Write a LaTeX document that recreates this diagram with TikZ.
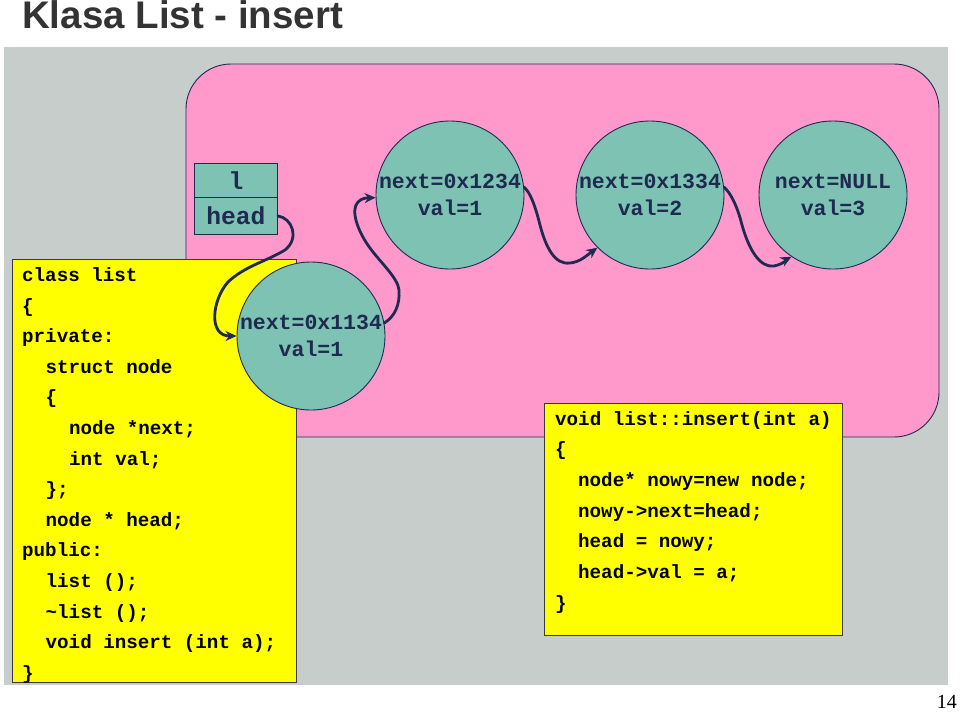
\documentclass[tikz,border=0pt]{standalone}
\usepackage{fontspec}
\setmonofont{Liberation Mono}
\newfontfamily\titlefont{Liberation Sans}
\newfontfamily\numfont{Liberation Serif}
\usetikzlibrary{arrows.meta}
\definecolor{bggray}{HTML}{C6CDCA}
\definecolor{pinkbg}{HTML}{FF99CC}
\definecolor{tealc}{HTML}{7DC2B3}
\definecolor{navy}{HTML}{1F2A50}
\definecolor{titlec}{HTML}{333333}
\definecolor{codeborder}{HTML}{3A3A3A}
\definecolor{codeyellow}{HTML}{FFFF00}
\tikzset{
  circ/.style={circle, draw=navy, line width=0.9pt, fill=tealc, minimum size=148pt, inner sep=0pt,
    align=center, text=navy, font=\ttfamily\bfseries\fontsize{21.5}{27.5}\selectfont},
  hbox/.style={rectangle, draw=navy, line width=0.9pt, fill=tealc, minimum width=83pt, inner sep=0pt,
    text=navy, font=\ttfamily\bfseries\fontsize{24.6}{28}\selectfont},
  codebox/.style={draw=codeborder, line width=1pt, fill=codeyellow},
  code/.style={anchor=base west, inner sep=0pt, font=\ttfamily\bfseries\fontsize{19.2}{23}\selectfont, text=black},
  arr/.style={draw=navy, line width=2.8pt, line cap=round, -{Stealth[length=11pt,width=10pt]}}
}
\begin{document}
\begin{tikzpicture}[x=1pt,y=-1pt]
\useasboundingbox (0,0) rectangle (960,713);
% backgrounds
\fill[bggray] (4,47) rectangle (948,685);
\draw[navy, line width=0.9pt, fill=pinkbg, rounded corners=45pt] (186,64) rectangle (939,437);
% title
\node[anchor=base west, inner sep=0pt, text=titlec, font=\titlefont\bfseries\fontsize{38.5}{40}\selectfont] (title) at (22,28.5) {Klasa List - insert};
% head box
\node[hbox, minimum height=34pt, anchor=north west] (hl) at (194,163) {l};
\node[hbox, minimum height=37pt, anchor=north west] (hh) at (194,197) {head};
% list circles
\node[circ] (c1) at (450,195) {next=0x1234\\val=1};
\node[circ] (c2) at (650,195) {next=0x1334\\val=2};
\node[circ] (c3) at (833,195) {next=NULL\\val=3};
% left code box
\node[codebox, minimum width=284pt, minimum height=423pt, anchor=north west, inner sep=0pt] (lbox) at (12,259) {};
\foreach \lv/\tx [count=\i] in {0/class list, 0/\{, 0/private:, 1/struct node, 1/\{, 2/node *next;, 2/int val;, 1/\};, 1/node * head;, 0/public:, 1/list ();, 1/\textasciitilde list ();, 1/void insert (int a);, 0/\}}
  \node[code] (L\i) at ({22+23.5*\lv},{281.5+30.6*(\i-1)}) {\tx};
% new node
\node[circ] (nowy) at (311,336) {next=0x1134\\val=1};
% right code box
\node[codebox, minimum width=298pt, minimum height=232pt, anchor=north west, inner sep=0pt] (rbox) at (544,403) {};
\foreach \lv/\tx [count=\i] in {0/void list::insert(int a), 0/\{, 1/node* nowy=new node;, 1/nowy->next=head;, 1/head = nowy;, 1/head->val = a;, 0/\}}
  \node[code] (R\i) at ({555+23*\lv},{425+30.7*(\i-1)}) {\tx};
% arrows
\draw[arr] (hh.east) .. controls (292,218) and (300,238) .. (285,250)
  .. controls (265,262) and (245,266) .. (228,282)
  .. controls (212,300) and (208,336) .. (nowy.west);
\draw[arr] (nowy.10) .. controls (395,316) and (400,305) .. (399,290)
  .. controls (398,278) and (380,262) .. (370,248)
  .. controls (358,232) and (350,210) .. (358,202)
  .. controls (362,198) and (366,198) .. (c1.182);
\draw[arr] (c1.6) .. controls (530,192) and (535,205) .. (540,225)
  .. controls (546,248) and (555,265) .. (570,263)
  .. controls (580,262) and (586,256) .. (c2.225);
\draw[arr] (c2.6) .. controls (730,192) and (737,205) .. (742,225)
  .. controls (749,250) and (760,268) .. (774,266)
  .. controls (784,264) and (789,258) .. (c3.236);
% page number
\node[anchor=base east, inner sep=0pt, font=\numfont\fontsize{20}{24}\selectfont] (pnum) at (957,708) {14};
\end{tikzpicture}
\end{document}
